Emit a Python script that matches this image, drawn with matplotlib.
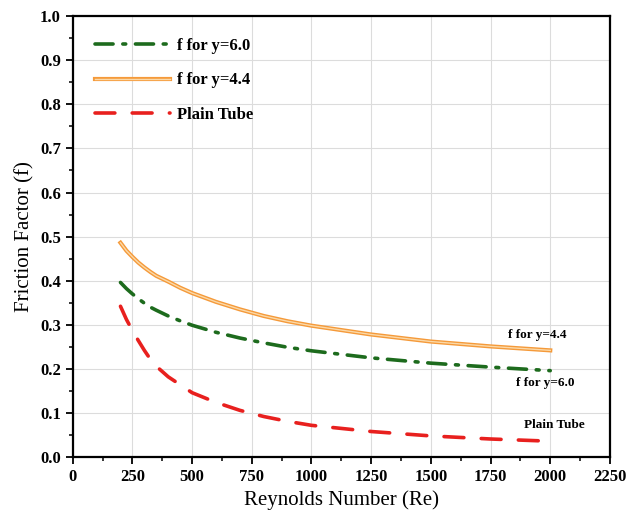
import matplotlib
matplotlib.use("Agg")
import matplotlib.pyplot as plt
import matplotlib.patheffects as pe
from matplotlib.ticker import MultipleLocator

re_vals = [200, 225, 250, 275, 300, 325, 350, 400, 450, 500, 600, 700, 800, 900,
           1000, 1250, 1500, 1750, 2000]
f_y44 = [0.486, 0.468, 0.454, 0.441, 0.430, 0.420, 0.411, 0.398, 0.384, 0.372, 0.352,
         0.335, 0.320, 0.308, 0.298, 0.278, 0.262, 0.251, 0.242]
f_y60 = [0.396, 0.382, 0.370, 0.359, 0.349, 0.340, 0.333, 0.320, 0.309, 0.299, 0.283,
         0.270, 0.259, 0.249, 0.241, 0.225, 0.213, 0.204, 0.196]
f_plain = [0.342, 0.312, 0.287, 0.264, 0.242, 0.222, 0.206, 0.182, 0.164, 0.146, 0.124,
           0.106, 0.092, 0.081, 0.072, 0.058, 0.048, 0.041, 0.036]

plt.rcParams['font.family'] = ['Liberation Serif', 'DejaVu Serif']

fig = plt.figure(figsize=(6.38, 5.2), dpi=100)
ax = fig.add_axes([0.114, 0.121, 0.842, 0.848])

ax.plot(re_vals, f_y60, color='#1d6b1d', lw=2.6, linestyle=(0, (5, 2.7, 0.8, 2.7)),
        label='f for y=6.0', dash_capstyle='round')
ax.plot(re_vals, f_y44, color='#fbd9a8', lw=1.0, label='f for y=4.4',
        path_effects=[pe.Stroke(linewidth=3.0, foreground='#f59a3a'), pe.Normal()])
ax.plot(re_vals, f_plain, color='#e8201e', lw=2.6, linestyle=(0, (5.5, 4.8)),
        label='Plain Tube', dash_capstyle='round')

ax.set_xlim(0, 2250)
ax.set_ylim(0, 1.0)
ax.xaxis.set_major_locator(MultipleLocator(250))
ax.xaxis.set_minor_locator(MultipleLocator(125))
ax.yaxis.set_major_locator(MultipleLocator(0.1))
ax.yaxis.set_minor_locator(MultipleLocator(0.05))
ax.grid(True, which='major', color='#dcdcdc', lw=0.8)
ax.set_axisbelow(True)
ax.tick_params(which='major', direction='out', length=5, width=1.3)
ax.tick_params(which='minor', direction='out', length=3, width=1.1)
for lab in ax.get_xticklabels() + ax.get_yticklabels():
    lab.set_fontweight('bold')
    lab.set_fontsize(12)
for s in ax.spines.values():
    s.set_linewidth(1.6)

ax.set_xlabel('Reynolds Number (Re)', fontsize=15)
ax.set_ylabel('Friction Factor (f)', fontsize=15)

leg = ax.legend(loc='upper left', frameon=False, handlelength=4.5, handletextpad=0.42,
                labelspacing=1.1, borderaxespad=0.92,
                prop={'weight': 'bold', 'size': 12})

ax.text(1944, 0.277, 'f for y=4.4', ha='center', va='center', fontsize=9.5, fontweight='bold')
ax.text(1978, 0.168, 'f for y=6.0', ha='center', va='center', fontsize=9.5, fontweight='bold')
ax.text(2019, 0.073, 'Plain Tube', ha='center', va='center', fontsize=9.5, fontweight='bold')

fig.savefig('out.png', dpi=100)
